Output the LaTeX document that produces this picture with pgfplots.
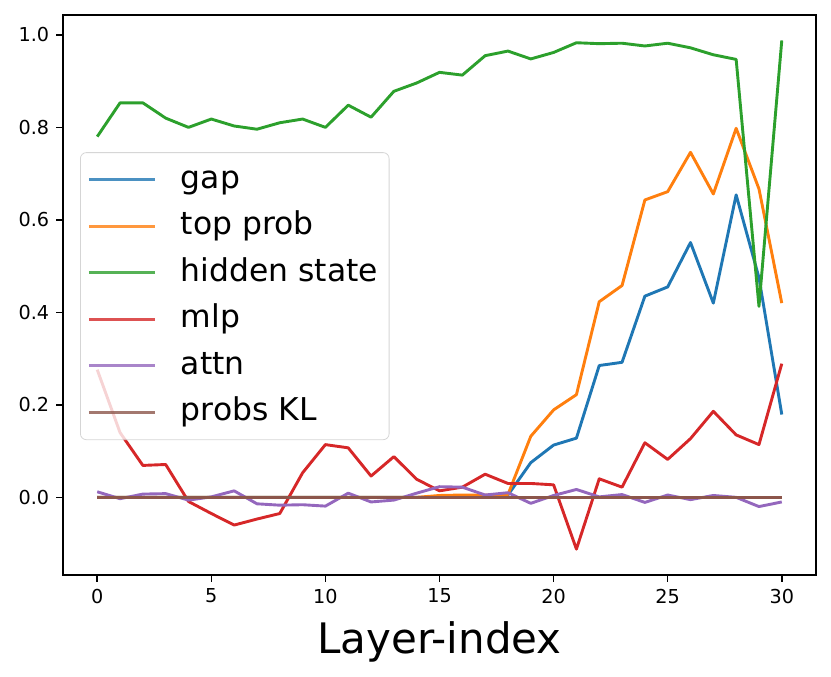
\documentclass[border=0pt]{standalone}
\usepackage{fontspec}
\setmainfont{DejaVu Sans}
\usepackage{pgfplots}
\pgfplotsset{compat=1.18}
\usetikzlibrary{calc}
\definecolor{c0}{HTML}{1F77B4}
\definecolor{c1}{HTML}{FF7F0E}
\definecolor{c2}{HTML}{2CA02C}
\definecolor{c3}{HTML}{D62728}
\definecolor{c4}{HTML}{9467BD}
\definecolor{c5}{HTML}{8C564B}

\begin{document}
\begin{tikzpicture}
\begin{axis}[
  name=ax,
  width=376.5pt, height=280pt, scale only axis,
  xmin=-1.5, xmax=31.5, ymin=-0.168, ymax=1.043,
  xtick={0,5,10,15,20,25,30},
  ytick={0,0.2,0.4,0.6,0.8,1.0},
  yticklabel style={/pgf/number format/.cd, fixed, fixed zerofill, precision=1},
  /pgf/number format/assume math mode=true,
  tick label style={font=\fontsize{9.6}{11}\selectfont},
  tick align=outside, tick pos=left, major tick length=3.4pt,
  every tick/.style={black, line width=0.77pt},
  axis line style={line width=0.77pt},
  xlabel={Layer-index},
  xlabel style={font=\fontsize{21}{25}\selectfont, yshift=-2pt},
  every axis plot/.append style={line width=1.45pt, line join=round},
  legend cell align=left,
  legend image code/.code={\draw[#1] (0pt,0pt) -- (33pt,0pt);
    \path[draw=none, fill=none] (44pt,0pt) rectangle (44pt,0pt);},
  legend style={at={(rel axis cs:0.0226,0.755)}, anchor=north west,
    font=\fontsize{15.7}{18}\selectfont, draw=black!20, rounded corners=3pt,
    fill=white, fill opacity=0.8, draw opacity=0.8, text opacity=1,
    inner xsep=3.5pt, inner ysep=3.75pt, row sep=3.45pt,
    nodes={inner ysep=2pt, text height=12pt, text depth=3.8pt}},
]
% gap
\addplot[c0] coordinates {(0,0)(1,0)(2,0)(3,0)(4,0)(5,0)(6,0)(7,0)(8,0)(9,0)
  (10,0)(11,0)(12,0)(13,0)(14,0)(15,0)(16,0)(17,0)(18,0.005)(19,0.075)
  (20,0.113)(21,0.128)(22,0.285)(23,0.292)(24,0.435)(25,0.455)(26,0.551)
  (27,0.420)(28,0.654)(29,0.475)(30,0.179)};
% top prob
\addplot[c1] coordinates {(0,0)(1,0)(2,0)(3,0)(4,0)(5,0)(6,0)(7,0)(8,0)(9,0)
  (10,0)(11,0)(12,0)(13,0)(14,0)(15,0.004)(16,0.005)(17,0.005)(18,0.006)(19,0.132)
  (20,0.189)(21,0.222)(22,0.423)(23,0.458)(24,0.643)(25,0.661)(26,0.746)
  (27,0.656)(28,0.798)(29,0.667)(30,0.420)};
% hidden state
\addplot[c2] coordinates {(0,0.780)(1,0.853)(2,0.853)(3,0.820)(4,0.800)(5,0.818)
  (6,0.803)(7,0.796)(8,0.810)(9,0.818)(10,0.800)(11,0.848)(12,0.822)(13,0.878)
  (14,0.896)(15,0.919)(16,0.913)(17,0.955)(18,0.965)(19,0.948)(20,0.962)
  (21,0.983)(22,0.981)(23,0.982)(24,0.976)(25,0.982)(26,0.972)(27,0.957)
  (28,0.947)(29,0.413)(30,0.988)};
% mlp
\addplot[c3] coordinates {(0,0.276)(1,0.140)(2,0.069)(3,0.071)(4,-0.009)(5,-0.035)
  (6,-0.060)(7,-0.047)(8,-0.035)(9,0.053)(10,0.114)(11,0.107)(12,0.046)(13,0.088)
  (14,0.039)(15,0.014)(16,0.022)(17,0.050)(18,0.030)(19,0.030)(20,0.027)
  (21,-0.112)(22,0.040)(23,0.022)(24,0.118)(25,0.082)(26,0.127)(27,0.186)
  (28,0.135)(29,0.114)(30,0.289)};
% attn
\addplot[c4] coordinates {(0,0.012)(1,-0.003)(2,0.007)(3,0.008)(4,-0.006)(5,0.001)
  (6,0.014)(7,-0.014)(8,-0.017)(9,-0.016)(10,-0.019)(11,0.009)(12,-0.010)
  (13,-0.006)(14,0.009)(15,0.023)(16,0.022)(17,0.005)(18,0.010)(19,-0.013)
  (20,0.004)(21,0.017)(22,0.001)(23,0.006)(24,-0.011)(25,0.005)(26,-0.005)
  (27,0.004)(28,0.000)(29,-0.020)(30,-0.010)};
% probs KL
\addplot[c5] coordinates {(0,0)(1,0)(2,0)(3,0)(4,0)(5,0)(6,0)(7,0)(8,0)(9,0)
  (10,0)(11,0)(12,0)(13,0)(14,0)(15,0)(16,0)(17,0)(18,0)(19,0)(20,0)(21,0)
  (22,0)(23,0)(24,0)(25,0)(26,0)(27,0)(28,0)(29,0)(30,0)};
\legend{gap, top prob, hidden state, mlp, attn, probs KL}
\end{axis}
\pgfresetboundingbox
\path ($(ax.south west)+(-31.5pt,-50.5pt)$) rectangle ($(ax.north east)+(7.5pt,7.5pt)$);
\end{tikzpicture}
\end{document}
